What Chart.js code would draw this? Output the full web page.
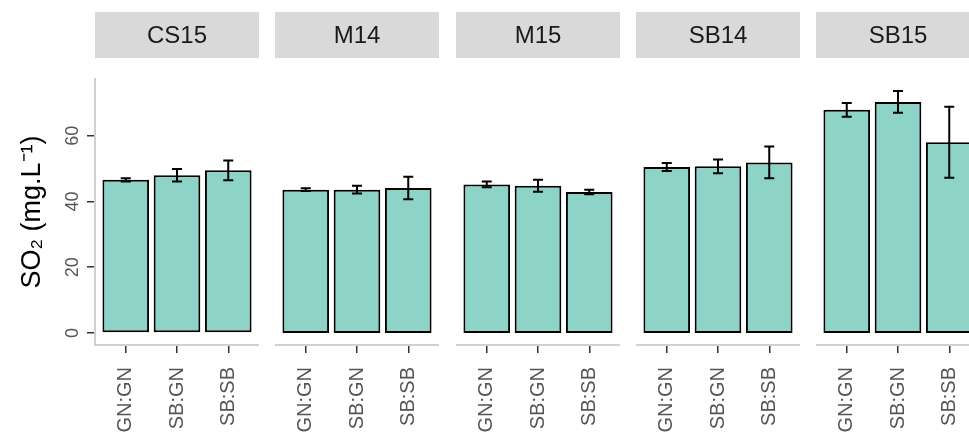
<!DOCTYPE html>
<html><head><meta charset="utf-8">
<script src="https://cdn.jsdelivr.net/npm/chart.js@4.4.1/dist/chart.umd.min.js"></script>
<style>
html,body{margin:0;padding:0;background:#fff;overflow:hidden;width:969px;height:436px;position:relative;}
canvas.panel{position:absolute;top:0;}
</style></head><body>
<script>
// ---- data ----
const panels = ['CS15', 'M14', 'M15', 'SB14', 'SB15'];
const categories = ['GN:GN', 'SB:GN', 'SB:SB'];
const meanCS15 = [46.6, 48.0, 49.5];
const errCS15  = [0.5, 1.9, 3.0];
const meanM14  = [43.6, 43.6, 44.1];
const errM14   = [0.4, 1.2, 3.4];
const meanM15  = [45.2, 44.8, 42.9];
const errM15   = [0.9, 1.8, 0.7];
const meanSB14 = [50.5, 50.7, 51.9];
const errSB14  = [1.2, 2.1, 4.8];
const meanSB15 = [67.9, 70.3, 58.0];
const errSB15  = [2.1, 3.3, 10.8];
const yTicks = [0, 20, 40, 60];
const yTitle = 'SO\u2082 (mg.L\u207B\u00B9)';

const means = [meanCS15, meanM14, meanM15, meanSB14, meanSB15];
const errs  = [errCS15, errM14, errM15, errSB14, errSB15];

// ---- layout / style ----
const H = 436, TOP = 79, XAXIS_H = 91, YAXIS_W = 95, PANEL_W = 164;
const panelLefts = [95, 275, 456, 636, 816];
const FILL = '#8DD3C7';
const FONT = "'Liberation Sans', Arial, Helvetica, sans-serif";
Chart.defaults.font.family = FONT;

// ggplot-like expanded range
let dataMax = 0;
means.forEach((m, i) => m.forEach((v, j) => { dataMax = Math.max(dataMax, v + errs[i][j]); }));
const yMin = -0.05 * dataMax, yMax = dataMax * 1.05;

const stripPlugin = {
  id: 'strip',
  afterDraw(chart, args, o) {
    const {ctx, chartArea} = chart;
    const top = chartArea.top - o.gap - o.height;
    ctx.save();
    ctx.fillStyle = o.fill;
    ctx.fillRect(chartArea.left, top, chartArea.right - chartArea.left, o.height);
    ctx.fillStyle = o.color;
    ctx.font = o.size + 'px ' + FONT;
    ctx.textAlign = 'center';
    ctx.textBaseline = 'middle';
    ctx.fillText(o.text, (chartArea.left + chartArea.right) / 2, top + o.height / 2 + 1);
    ctx.restore();
  }
};

const errorBarPlugin = {
  id: 'errorBars',
  afterDatasetsDraw(chart, args, o) {
    const {ctx} = chart;
    const ys = chart.scales.y;
    chart.data.datasets.forEach((ds, di) => {
      const meta = chart.getDatasetMeta(di);
      meta.data.forEach((bar, i) => {
        const v = ds.data[i].y, e = ds.errors[i];
        const yHi = ys.getPixelForValue(v + e), yLo = ys.getPixelForValue(v - e);
        ctx.save();
        ctx.strokeStyle = o.color;
        ctx.lineWidth = o.width;
        ctx.beginPath();
        ctx.moveTo(bar.x, yHi); ctx.lineTo(bar.x, yLo);
        ctx.moveTo(bar.x - o.cap / 2, yHi); ctx.lineTo(bar.x + o.cap / 2, yHi);
        ctx.moveTo(bar.x - o.cap / 2, yLo); ctx.lineTo(bar.x + o.cap / 2, yLo);
        ctx.stroke();
        ctx.restore();
      });
    });
  }
};

panels.forEach((name, i) => {
  const first = i === 0;
  const c = document.createElement('canvas');
  c.className = 'panel';
  const w = PANEL_W + (first ? YAXIS_W : 0);
  c.width = w; c.height = H;
  c.style.width = w + 'px'; c.style.height = H + 'px';
  c.style.left = (first ? 0 : panelLefts[i]) + 'px';
  document.body.appendChild(c);

  new Chart(c, {
    type: 'bar',
    data: {
      datasets: [{
        data: categories.map((cat, j) => ({x: j, y: means[i][j]})),
        errors: errs[i],
        backgroundColor: FILL,
        borderColor: '#000',
        borderWidth: 2,
        borderSkipped: false,
        barPercentage: 0.91,
        categoryPercentage: 1
      }]
    },
    plugins: [stripPlugin, errorBarPlugin],
    options: {
      responsive: false,
      animation: false,
      devicePixelRatio: 1,
      layout: {padding: {top: TOP, left: 0, right: 0, bottom: 0}},
      plugins: {
        legend: {display: false},
        tooltip: {enabled: false},
        strip: {text: name, fill: '#D9D9D9', color: '#1A1A1A', size: 24, height: 46, gap: 21},
        errorBars: {color: '#000', width: 2, cap: 10}
      },
      scales: {
        x: {
          type: 'linear', min: -0.6, max: 2.6, offset: false,
          afterBuildTicks: s => { s.ticks = categories.map((cat, j) => ({value: j})); },
          afterFit: s => { s.height = XAXIS_H; s.paddingLeft = 0; s.paddingRight = 0; },
          grid: {offset: false, display: true, drawOnChartArea: false, drawTicks: true, tickLength: 8, color: '#333', lineWidth: 1.5},
          border: {display: true, color: '#D0D0D0', width: 2},
          ticks: {minRotation: 90, maxRotation: 90, autoSkip: false, padding: 14, color: '#555', font: {size: 20},
                  callback: v => categories[v]}
        },
        y: {
          display: first,
          min: yMin, max: yMax,
          afterBuildTicks: s => { s.ticks = yTicks.map(v => ({value: v})); },
          afterFit: s => { if (first) { s.width = YAXIS_W; } s.paddingTop = 0; s.paddingBottom = 0; },
          grid: {drawOnChartArea: false, drawTicks: true, tickLength: 8, color: '#333', lineWidth: 1.5},
          border: {display: true, color: '#D0D0D0', width: 2},
          ticks: {minRotation: 90, maxRotation: 90, crossAlign: 'center', padding: 4, color: '#555', font: {size: 18}},
          title: {display: true, text: yTitle, color: '#000', font: {size: 27}, padding: {top: 16, bottom: 0}}
        }
      }
    }
  });
});
</script>
</body></html>
